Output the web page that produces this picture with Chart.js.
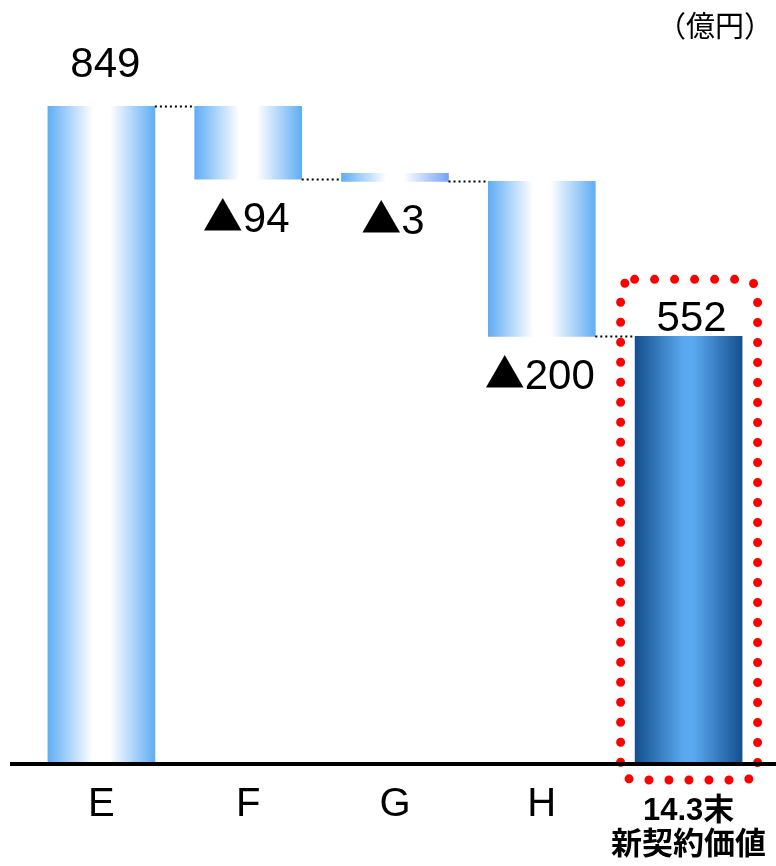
<!DOCTYPE html>
<html lang="ja">
<head>
    <meta charset="UTF-8">
    <title>新契約価値</title>
    <style>
        html, body {
            margin: 0;
            padding: 0;
            background: #ffffff;
        }
        .container {
            position: relative;
            width: 776px;
            height: 866px;
        }
    </style>
</head>
<body>
    <div class="container">
        <canvas id="myChart"></canvas>
    </div>
    <script src="https://cdn.jsdelivr.net/npm/chart.js@4.4.1/dist/chart.umd.min.js"></script>
    <script>
        // waterfall data (億円)
        const categories = ['E', 'F', 'G', 'H', ['14.3末', '新契約価値']];
        const startValue = 849;
        const changes = [-94, -3, -200];
        const endValue = 552;
        const unitLabel = '（億円）';

        // floating ranges for every bar + the level each one ends at
        const ranges = [[0, startValue]];
        const levels = [startValue];
        let running = startValue;
        changes.forEach(d => {
            const next = running + d;
            ranges.push([Math.min(running, next), Math.max(running, next)]);
            running = next;
            levels.push(running);
        });
        ranges.push([0, endValue]);
        const valueLabels = [String(startValue)]
            .concat(changes.map(d => (d < 0 ? '▲' : '') + Math.abs(d)))
            .concat([String(endValue)]);

        const BAR_W = 107;
        const NUM_FONT = '42px "Liberation Sans", Arial, sans-serif';
        const TRI_FONT = '40px "Noto Sans CJK JP", "DejaVu Sans", sans-serif';

        function barFill(c) {
            const chart = c.chart;
            const xs = chart.scales.x;
            if (!chart.chartArea || !xs || c.type !== 'data') return '#60adf4';
            const cx = xs.getPixelForValue(c.dataIndex);
            const g = chart.ctx.createLinearGradient(cx - BAR_W / 2, 0, cx + BAR_W / 2, 0);
            if (c.dataIndex === ranges.length - 1) {
                g.addColorStop(0, '#14508f');
                g.addColorStop(0.45, '#5aa8ef');
                g.addColorStop(0.55, '#5aa8ef');
                g.addColorStop(1, '#14508f');
            } else {
                const edge = c.dataIndex === 2 ? '#77a2fb' : '#60adf4';
                g.addColorStop(0, '#60adf4');
                g.addColorStop(0.42, '#ffffff');
                g.addColorStop(0.58, '#ffffff');
                g.addColorStop(1, edge);
            }
            return g;
        }

        // "▲94" style label: bigger triangle, centred as one piece
        function drawValue(ctx, text, x, y) {
            let tri = '';
            let num = text;
            if (text.startsWith('▲')) {
                tri = '▲';
                num = text.slice(1);
            }
            ctx.font = TRI_FONT;
            const tw = tri ? ctx.measureText(tri).width : 0;
            ctx.font = NUM_FONT;
            const nw = ctx.measureText(num).width;
            let left = x - (tw + nw) / 2;
            ctx.textAlign = 'left';
            ctx.textBaseline = 'alphabetic';
            if (tri) {
                ctx.font = TRI_FONT;
                ctx.fillText(tri, left, y - 1);
                left += tw;
            }
            ctx.font = NUM_FONT;
            ctx.fillText(num, left, y);
        }

        const waterfallExtras = {
            id: 'waterfallExtras',
            afterDatasetsDraw(chart) {
                const ctx = chart.ctx;
                const ys = chart.scales.y;
                const bars = chart.getDatasetMeta(0).data;
                const y0 = ys.getPixelForValue(0);
                ctx.save();

                // dotted connectors between neighbouring bars
                ctx.strokeStyle = '#000000';
                ctx.lineWidth = 2;
                ctx.setLineDash([2, 3]);
                for (let i = 0; i < levels.length; i++) {
                    const y = Math.round(ys.getPixelForValue(levels[i])) + 0.5;
                    ctx.beginPath();
                    ctx.moveTo(bars[i].x + BAR_W / 2, y);
                    ctx.lineTo(bars[i + 1].x - BAR_W / 2, y);
                    ctx.stroke();
                }
                ctx.setLineDash([]);

                // value labels
                ctx.fillStyle = '#000000';
                bars.forEach((bar, i) => {
                    const top = Math.min(bar.y, bar.base);
                    const bottom = Math.max(bar.y, bar.base);
                    if (i === 0) {
                        drawValue(ctx, valueLabels[i], bar.x + 4, top - 29);
                    } else if (i === bars.length - 1) {
                        drawValue(ctx, valueLabels[i], bar.x + 3, top - 5);
                    } else {
                        drawValue(ctx, valueLabels[i], bar.x - 2, bottom + 53);
                    }
                });

                // red dotted frame around the closing bar
                const last = bars[bars.length - 1];
                const fx = last.x - 68;
                const fy = Math.min(last.y, last.base) - 57;
                const fw = 137;
                const fh = y0 + 16 - fy;
                ctx.strokeStyle = '#ff0000';
                ctx.lineWidth = 9;
                ctx.lineCap = 'round';
                ctx.setLineDash([0, 20]);
                ctx.beginPath();
                ctx.roundRect(fx, fy, fw, fh, 14);
                ctx.stroke();
                ctx.setLineDash([]);

                // zero line
                ctx.fillStyle = '#000000';
                ctx.fillRect(10, Math.round(y0) - 2, chart.width - 10, 4);

                // unit
                ctx.font = '29px "Noto Sans CJK JP", sans-serif';
                ctx.textAlign = 'right';
                ctx.textBaseline = 'middle';
                ctx.fillText(unitLabel, 773, 26);
                ctx.restore();
            }
        };

        const data = {
            labels: categories,
            datasets: [{
                data: ranges,
                backgroundColor: barFill,
                borderWidth: 0,
                barThickness: BAR_W,
                minBarLength: 8
            }]
        };

        const ctx = document.getElementById('myChart').getContext('2d');
        const myChart = new Chart(ctx, {
            type: 'bar',
            data: data,
            options: {
                responsive: true,
                maintainAspectRatio: false,
                animation: false,
                layout: {
                    padding: { top: 28, left: 28, right: 14, bottom: 0 }
                },
                plugins: {
                    legend: { display: false },
                    tooltip: { enabled: false }
                },
                scales: {
                    x: {
                        grid: { display: false, drawTicks: false },
                        border: { display: false },
                        ticks: {
                            color: '#000000',
                            padding: 30,
                            autoSkip: false,
                            maxRotation: 0,
                            font: (c) => c.index === categories.length - 1
                                ? { family: '"Liberation Sans", "Noto Sans CJK JP", sans-serif', size: 31, weight: 'bold', lineHeight: '34px' }
                                : { family: '"Liberation Sans", Arial, sans-serif', size: 40, lineHeight: '22px' }
                        },
                        afterFit: (axis) => {
                            axis.height = 102;
                            axis.paddingLeft = 0;
                            axis.paddingRight = 0;
                        }
                    },
                    y: {
                        display: false,
                        min: 0,
                        max: 950
                    }
                }
            },
            plugins: [waterfallExtras]
        });
    </script>
</body>
</html>
